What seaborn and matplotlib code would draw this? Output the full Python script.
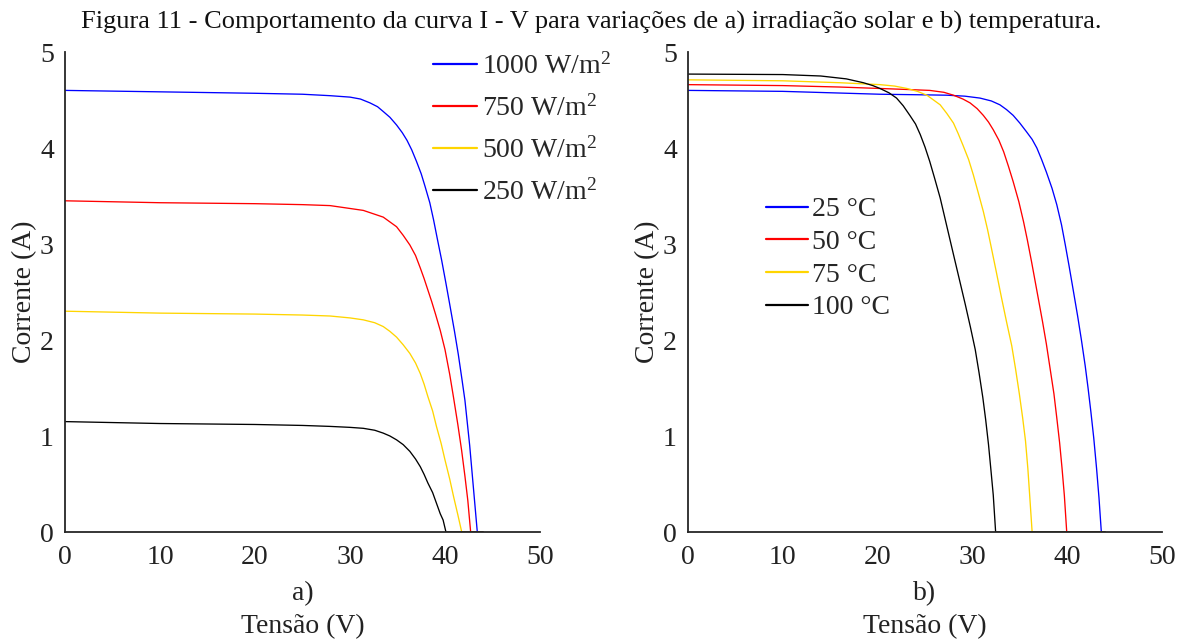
import matplotlib
matplotlib.use("Agg")
import matplotlib.pyplot as plt
import pandas as pd
import seaborn as sns

# ---- a) I-V curves for different solar irradiance levels ----
irr_labels = ["1000 W/m$^2$", "750 W/m$^2$", "500 W/m$^2$", "250 W/m$^2$"]

v_1000 = [0, 10, 20, 25, 27.9, 30.0, 31.1, 32.1, 32.9, 33.5, 34.2, 34.9, 35.5, 36.0,
          36.5, 37.0, 37.5, 37.9, 38.4, 38.8, 39.2, 39.65, 40.1, 40.5, 41.0, 41.4,
          41.8, 42.1, 42.6, 43.0, 43.4, 44.0]
i_1000 = [4.60, 4.585, 4.57, 4.56, 4.545, 4.53, 4.51, 4.47, 4.43, 4.38, 4.32, 4.24,
          4.16, 4.08, 3.98, 3.86, 3.73, 3.60, 3.43, 3.25, 3.05, 2.83, 2.59, 2.37,
          2.09, 1.85, 1.58, 1.37, 0.90, 0.45, 0.0, 0.0]

v_750 = [0, 10, 20, 25, 27.9, 30, 31.4, 32.6, 33.5, 34.2, 34.9, 35.6, 36.3, 36.9,
         37.4, 37.8, 38.2, 38.6, 39.0, 39.5, 40.0, 40.5, 40.9, 41.35, 41.75, 42.1,
         42.4, 42.7, 44.0]
i_750 = [3.45, 3.43, 3.42, 3.41, 3.40, 3.37, 3.35, 3.31, 3.28, 3.23, 3.18, 3.09,
         2.99, 2.88, 2.75, 2.64, 2.52, 2.40, 2.27, 2.10, 1.90, 1.64, 1.40, 1.12,
         0.85, 0.58, 0.33, 0.0, 0.0]

v_500 = [0, 10, 20, 25, 27.9, 30, 31.4, 32.6, 33.5, 34.2, 34.9, 35.6, 36.3, 36.9,
         37.4, 37.8, 38.2, 38.7, 39.1, 39.6, 40.0, 40.5, 40.9, 41.35, 41.76, 44.0]
i_500 = [2.30, 2.28, 2.27, 2.26, 2.25, 2.23, 2.21, 2.18, 2.14, 2.09, 2.03, 1.95,
         1.86, 1.76, 1.65, 1.54, 1.41, 1.26, 1.10, 0.92, 0.75, 0.55, 0.37, 0.18,
         0.0, 0.0]

v_250 = [0, 10, 20, 25, 27.9, 30, 31.4, 32.6, 33.5, 34.2, 34.9, 35.6, 36.3, 36.9,
         37.4, 37.8, 38.2, 38.7, 39.1, 39.5, 39.8, 40.1, 44.0]
i_250 = [1.15, 1.13, 1.12, 1.11, 1.10, 1.09, 1.08, 1.06, 1.03, 1.00, 0.96, 0.91,
         0.84, 0.76, 0.68, 0.60, 0.51, 0.41, 0.30, 0.19, 0.125, 0.0, 0.0]

# ---- b) I-V curves for different cell temperatures ----
temp_labels = ["25 °C", "50 °C", "75 °C", "100 °C"]

v_25 = [0, 10, 20.25, 24, 27.3, 29.2, 30.8, 32.0, 32.9, 33.6, 34.3, 35.0, 35.7,
        36.3, 36.8, 37.3, 37.8, 38.4, 38.9, 39.4, 39.8, 40.2, 40.6, 41.1, 41.5,
        41.9, 42.2, 42.5, 42.8, 43.1, 43.35, 43.6, 44.0]
i_25 = [4.60, 4.59, 4.56, 4.555, 4.55, 4.54, 4.52, 4.49, 4.45, 4.40, 4.34, 4.26,
        4.17, 4.09, 4.00, 3.88, 3.75, 3.58, 3.41, 3.20, 2.99, 2.77, 2.54, 2.25,
        2.00, 1.73, 1.50, 1.25, 0.98, 0.66, 0.36, 0.0, 0.0]

v_50 = [0, 10, 16, 20.25, 23, 25.5, 27, 28.0, 29.0, 29.75, 30.5, 31.15, 31.7,
        32.2, 32.8, 33.3, 33.8, 34.3, 34.9, 35.4, 35.8, 36.25, 36.9, 37.4, 37.8,
        38.2, 38.6, 38.9, 39.2, 39.45, 39.7, 39.95, 44.0]
i_50 = [4.66, 4.65, 4.635, 4.62, 4.61, 4.60, 4.58, 4.55, 4.51, 4.47, 4.41, 4.34,
        4.27, 4.19, 4.08, 3.96, 3.81, 3.65, 3.44, 3.23, 3.04, 2.81, 2.46, 2.19,
        1.96, 1.70, 1.44, 1.19, 0.93, 0.67, 0.38, 0.0, 0.0]

v_75 = [0, 10, 16, 20.25, 21.8, 23.1, 24.2, 25.2, 25.9, 26.6, 27.3, 28.0, 28.5,
        29.0, 29.6, 30.1, 30.6, 31.15, 31.6, 32.0, 32.5, 33.05, 33.6, 34.15, 34.55,
        34.95, 35.3, 35.6, 35.85, 36.05, 36.3, 44.0]
i_75 = [4.71, 4.70, 4.68, 4.66, 4.645, 4.62, 4.59, 4.55, 4.50, 4.45, 4.36, 4.26,
        4.15, 4.03, 3.88, 3.72, 3.54, 3.34, 3.15, 2.96, 2.72, 2.45, 2.19, 1.94,
        1.70, 1.44, 1.19, 0.95, 0.66, 0.37, 0.0, 0.0]

v_100 = [0, 10, 14, 16.7, 18.5, 19.5, 20.25, 21.2, 22.0, 22.7, 23.4, 24.0, 24.5,
         25.0, 25.5, 26.0, 26.6, 27.1, 27.6, 28.1, 28.7, 29.25, 29.8, 30.3, 30.7,
         31.1, 31.4, 31.7, 31.95, 32.2, 32.45, 44.0]
i_100 = [4.77, 4.765, 4.75, 4.72, 4.68, 4.65, 4.62, 4.575, 4.52, 4.44, 4.34, 4.25,
         4.14, 4.01, 3.86, 3.69, 3.48, 3.27, 3.06, 2.85, 2.60, 2.37, 2.13, 1.90,
         1.66, 1.40, 1.17, 0.91, 0.65, 0.385, 0.0, 0.0]

curve_colors = ["#0000FF", "#FF0000", "#FFD500", "#000000"]


def long_table(labels, volts, amps):
    parts = []
    for lab, v, i in zip(labels, volts, amps):
        parts.append(pd.DataFrame({"V": v, "I": i, "serie": lab}))
    return pd.concat(parts, ignore_index=True)


df_irr = long_table(irr_labels, [v_1000, v_750, v_500, v_250],
                    [i_1000, i_750, i_500, i_250])
df_temp = long_table(temp_labels, [v_25, v_50, v_75, v_100],
                     [i_25, i_50, i_75, i_100])

sns.set_style("white")
plt.rcParams["font.family"] = ["Liberation Serif", "DejaVu Serif"]
plt.rcParams["mathtext.fontset"] = "custom"
plt.rcParams["mathtext.rm"] = "Liberation Serif"
plt.rcParams["mathtext.it"] = "Liberation Serif:italic"

W, H = 1187, 641
fig = plt.figure(figsize=(W / 100, H / 100), dpi=100)

ax1 = fig.add_axes([65 / W, (H - 532) / H, 475 / W, 480 / H])
ax2 = fig.add_axes([688 / W, (H - 532) / H, 474 / W, 480 / H])

spine_col = "#262626"
tick_fs = 20

for ax, df, labels, sub in [(ax1, df_irr, irr_labels, "a)"),
                            (ax2, df_temp, temp_labels, "b)")]:
    sns.lineplot(data=df, x="V", y="I", hue="serie", hue_order=labels,
                 palette=curve_colors, sort=False, estimator=None,
                 linewidth=0.95, ax=ax)
    ax.set_xlim(0, 50)
    ax.set_ylim(0, 5)
    ax.set_xticks(range(0, 51, 10))
    ax.set_yticks(range(0, 6))
    for s in ("top", "right"):
        ax.spines[s].set_visible(False)
    for s in ("left", "bottom"):
        ax.spines[s].set_color(spine_col)
        ax.spines[s].set_linewidth(1.3)
    ax.tick_params(direction="in", length=5, width=1.3, color=spine_col,
                   labelsize=tick_fs, labelcolor="#222222")
    ax.tick_params(axis="x", pad=9)
    ax.tick_params(axis="y", pad=8)
    ax.set_xlabel(f"{sub}\nTensão (V)", fontsize=20, color="#222222",
                  linespacing=1.45, labelpad=8)
    ax.set_ylabel("Corrente (A)", fontsize=20, color="#222222", labelpad=2)
    ax.patch.set_alpha(0)

leg1 = ax1.legend(loc="upper left", bbox_to_anchor=(433 / W, 1 - 53 / H),
                  bbox_transform=fig.transFigure, frameon=False, fontsize=20,
                  handlelength=1.6, handletextpad=0.15, labelspacing=0.56,
                  borderpad=0, borderaxespad=0)
leg2 = ax2.legend(loc="upper left", bbox_to_anchor=(766 / W, 1 - 197 / H),
                  bbox_transform=fig.transFigure, frameon=False, fontsize=20,
                  handlelength=1.5, handletextpad=0.15, labelspacing=0.26,
                  borderpad=0, borderaxespad=0)
for leg in (leg1, leg2):
    for line in leg.get_lines():
        line.set_linewidth(1.6)

fig.text(0.498, 1 - 22 / H,
         "Figura 11 - Comportamento da curva I - V para variações de a) "
         "irradiação solar e b) temperatura.",
         ha="center", va="center", fontsize=19, color="#111111")

fig.savefig("out.png", dpi=100, facecolor="white")
